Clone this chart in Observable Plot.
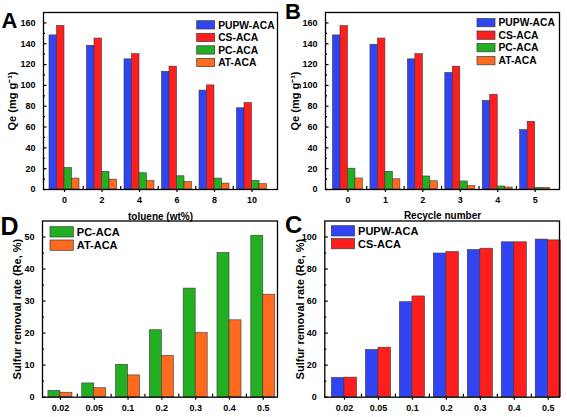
<!DOCTYPE html>
<html><head><meta charset="utf-8">
<script src="https://cdn.jsdelivr.net/npm/d3@7"></script>
<script src="https://cdn.jsdelivr.net/npm/@observablehq/plot@0.6"></script>
<style>
body{margin:0;background:#fff;}
#fig{position:relative;width:567px;height:417px;background:#fff;font-family:"Liberation Sans",Arial,sans-serif;font-weight:bold;overflow:hidden;}
.panel{position:absolute;}
#overlay{position:absolute;left:0;top:0;pointer-events:none;}
</style></head><body><div id="fig"></div>
<script>
// ---------- data ----------
const tolueneLabels = ["0","2","4","6","8","10"];
const recycleLabels = ["0","1","2","3","4","5"];
const ratioLabels = ["0.02","0.05","0.1","0.2","0.3","0.4","0.5"];

// Panel A: Qe vs toluene (wt%)
const tolPUPW = [148, 138, 125, 113, 95, 78];
const tolCS   = [157, 145, 130, 118, 100, 83];
const tolPC   = [20.7, 17, 15.6, 12.7, 10.5, 8.3];
const tolAT   = [10.5, 9.5, 8, 7.2, 5.7, 5.1];

// Panel B: Qe vs recycle number
const recPUPW = [148, 139, 125, 112, 85, 57];
const recCS   = [157, 145, 130, 118, 91, 65];
const recPC   = [20, 17, 12.5, 7.7, 2.9, 1.6];
const recAT   = [10.6, 9.8, 7.9, 3.2, 1.9, 1.6];

// Panel D: sulfur removal rate (PC, AT)
const remPC = [2.0, 4.3, 10.1, 20.9, 33.9, 45, 50.4];
const remAT = [1.4, 2.8, 6.8, 12.9, 20, 24, 32];

// Panel C: sulfur removal rate (PUPW, CS)
const remPUPW = [12, 29.5, 59.3, 89.7, 91.9, 96.7, 98.4];
const remCS   = [12.2, 30.9, 62.9, 90.6, 92.7, 96.7, 97.9];

const seriesNames = ["PUPW-ACA", "CS-ACA", "PC-ACA", "AT-ACA"];
const seriesColors = ["#3044f4", "#ff1e1e", "#22b022", "#ff6a1e"];

const qeTicks = [0,20,40,60,80,100,120,140,160];
const qeMinor = [10,30,50,70,90,110,130,150];
const remDTicks = [0,10,20,30,40,50];
const remDMinor = [5,15,25,35,45];
const remCTicks = [0,20,40,60,80,100];
const remCMinor = [10,30,50,70,90];

// ---------- drawing ----------
const FONT = '"Liberation Sans", Arial, Helvetica, sans-serif';
const fig = document.getElementById("fig");

function panel(o) {
  const n = o.series.length;
  const rows = [];
  o.series.forEach((s, k) => s.values.forEach((v, i) => rows.push({
    i, name: s.name, value: v,
    x1: i + (k - n / 2) * o.bw, x2: i + (k - n / 2 + 1) * o.bw
  })));
  const idx = o.labels.map((_, i) => i);
  const mids = idx.slice(1).map(i => i - 0.5);
  const chart = Plot.plot({
    width: o.width, height: o.height,
    marginLeft: o.ml, marginRight: o.mr, marginTop: o.mt, marginBottom: o.mb,
    style: {fontFamily: FONT, fontWeight: "bold", color: "black", background: "transparent", overflow: "visible"},
    x: {type: "linear", domain: o.xDomain},
    y: {domain: o.yDomain},
    color: {domain: seriesNames, range: seriesColors},
    marks: [
      Plot.rect(rows, {x1: "x1", x2: "x2", y1: 0, y2: "value", fill: "name", stroke: "#3a3a3a", strokeWidth: 0.6}),
      Plot.frame({stroke: "black", strokeWidth: 1.3}),
      Plot.axisX({ticks: idx, tickFormat: i => o.labels[i], tickSize: 3, tickPadding: 4, fontSize: 9, fontWeight: "bold", label: null, strokeWidth: 1.2}),
      Plot.axisX({ticks: mids, tickFormat: () => "", tickSize: -3, label: null, strokeWidth: 1.2}),
      Plot.axisY({ticks: o.yTicks, tickSize: -3.5, tickPadding: 11.5, fontSize: 9, fontWeight: "bold", label: null, strokeWidth: 1.2}),
      Plot.axisY({ticks: o.yMinor, tickFormat: () => "", tickSize: -2, label: null, strokeWidth: 1.2}),
      Plot.axisY({ticks: [], label: o.yLabel, labelAnchor: "center", labelArrow: "none", labelOffset: o.yLabelOffset, fontSize: 11, fontWeight: "bold"}),
      Plot.axisX({ticks: [], label: o.xLabel, labelAnchor: "center", labelArrow: "none", labelOffset: o.xLabelOffset, fontSize: 10, fontWeight: "bold"})
    ]
  });
  chart.classList.add("panel");
  chart.style.left = o.left + "px";
  chart.style.top = o.top + "px";
  fig.appendChild(chart);
}

const S = (name, values) => ({name, values});

panel({left: 0, top: 0, width: 283, height: 225, ml: 43, mr: 6, mt: 12, mb: 36,
  xDomain: [-0.56, 5.68], yDomain: [0, 170], yTicks: qeTicks, yMinor: qeMinor, bw: 0.2,
  labels: tolueneLabels, xLabel: "toluene (wt%)", yLabel: "Qe (mg g\u207B\u00B9)",
  xLabelOffset: 30, yLabelOffset: 35,
  series: [S("PUPW-ACA", tolPUPW), S("CS-ACA", tolCS), S("PC-ACA", tolPC), S("AT-ACA", tolAT)]});

panel({left: 283, top: 0, width: 284, height: 225, ml: 42, mr: 8, mt: 12, mb: 36,
  xDomain: [-0.6, 5.65], yDomain: [0, 170], yTicks: qeTicks, yMinor: qeMinor, bw: 0.2,
  labels: recycleLabels, xLabel: "Recycle number", yLabel: "Qe (mg g\u207B\u00B9)",
  xLabelOffset: 29, yLabelOffset: 34,
  series: [S("PUPW-ACA", recPUPW), S("CS-ACA", recCS), S("PC-ACA", recPC), S("AT-ACA", recAT)]});

panel({left: 0, top: 205, width: 283, height: 212, ml: 42, mr: 6, mt: 15.5, mb: 20.3,
  xDomain: [-0.53, 6.42], yDomain: [0, 55], yTicks: remDTicks, yMinor: remDMinor, bw: 0.355,
  labels: ratioLabels, xLabel: null, yLabel: "Sulfur removal rate (Re, %)",
  xLabelOffset: 30, yLabelOffset: 29,
  series: [S("PC-ACA", remPC), S("AT-ACA", remAT)]});

panel({left: 283, top: 205, width: 284, height: 212, ml: 41.3, mr: 8, mt: 15.5, mb: 20.3,
  xDomain: [-0.58, 6.33], yDomain: [0, 110], yTicks: remCTicks, yMinor: remCMinor, bw: 0.37,
  labels: ratioLabels, xLabel: null, yLabel: "Sulfur removal rate (Re, %)",
  xLabelOffset: 30, yLabelOffset: 29,
  series: [S("PUPW-ACA", remPUPW), S("CS-ACA", remCS)]});

// ---------- overlay: panel letters and legends ----------
const svg = d3.select(fig).append("svg").attr("id", "overlay")
  .attr("width", 567).attr("height", 417)
  .style("font-family", FONT).style("font-weight", "bold");

const letters = [
  {t: "A", x: 1.5, y: 28.3, s: 22},
  {t: "B", x: 285, y: 19, s: 22},
  {t: "C", x: 285, y: 233, s: 24},
  {t: "D", x: 0.5, y: 235, s: 25}
];
svg.selectAll("text.letter").data(letters).join("text").attr("class", "letter")
  .attr("x", d => d.x).attr("y", d => d.y).attr("font-size", d => d.s)
  .attr("fill", "black").text(d => d.t);

function legend(x, tops, names, w, h, fs) {
  const g = svg.append("g");
  names.forEach((nm, j) => {
    const c = seriesColors[seriesNames.indexOf(nm)];
    g.append("rect").attr("x", x).attr("y", tops[j]).attr("width", w).attr("height", h)
      .attr("fill", c).attr("stroke", "#3a3a3a").attr("stroke-width", 0.7);
    g.append("text").attr("x", x + w + 3.5).attr("y", tops[j] + h / 2)
      .attr("dy", "0.36em").attr("font-size", fs).attr("fill", "black").text(nm);
  });
}
legend(196.7, [20.7, 33.3, 45.8, 58.3], seriesNames, 18, 8.3, 10.3);
legend(477, [18.5, 31, 43.5, 56.5], seriesNames, 18, 8.3, 10.3);
legend(50, [226.7, 240], ["PC-ACA", "AT-ACA"], 23.3, 10.3, 11);
legend(331.3, [225.7, 238.5], ["PUPW-ACA", "CS-ACA"], 23.3, 10.3, 11);
</script>
</body></html>
